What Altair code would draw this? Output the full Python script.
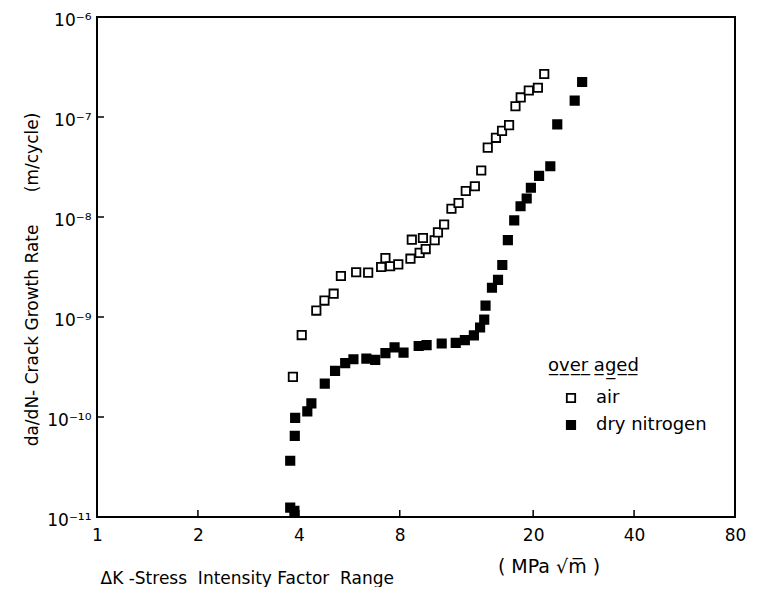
import altair as alt
import pandas as pd
import math

# ---- data ----
air_dk = [3.84, 4.08, 4.51, 4.77, 5.08, 5.34, 5.93, 6.44, 7.04, 7.25, 7.49, 7.92,
          8.61, 8.69, 9.17, 9.38, 9.56, 10.17, 10.40, 10.85, 11.41, 11.98, 12.59,
          13.40, 14.0, 14.64, 15.49, 16.15, 16.95, 17.71, 18.36, 19.41, 20.66, 21.58]
air_rate = [2.52e-10, 6.6e-10, 1.16e-9, 1.46e-9, 1.71e-9, 2.57e-9, 2.80e-9, 2.78e-9,
            3.16e-9, 3.88e-9, 3.22e-9, 3.36e-9, 3.83e-9, 5.93e-9, 4.38e-9, 6.17e-9,
            4.78e-9, 5.85e-9, 7.02e-9, 8.41e-9, 1.21e-8, 1.38e-8, 1.82e-8, 2.03e-8,
            2.92e-8, 4.94e-8, 6.19e-8, 7.26e-8, 8.30e-8, 1.28e-7, 1.57e-7, 1.84e-7,
            1.96e-7, 2.69e-7]

n2_dk = [3.77, 3.88, 3.77, 3.89, 3.90, 4.24, 4.36, 4.78, 5.13, 5.50, 5.82, 6.36,
         6.76, 7.25, 7.72, 8.21, 9.11, 9.62, 10.67, 11.75, 12.51, 13.31, 13.89,
         14.29, 14.42, 15.07, 15.71, 16.18, 16.81, 17.56, 18.34, 19.13, 19.69,
         20.83, 22.5, 23.6, 26.6, 28.0]
n2_rate = [1.24e-11, 1.15e-11, 3.65e-11, 6.47e-11, 9.8e-11, 1.14e-10, 1.37e-10,
           2.16e-10, 2.89e-10, 3.46e-10, 3.78e-10, 3.83e-10, 3.72e-10, 4.35e-10,
           4.97e-10, 4.40e-10, 5.13e-10, 5.23e-10, 5.43e-10, 5.51e-10, 5.87e-10,
           6.56e-10, 7.85e-10, 9.42e-10, 1.30e-9, 1.96e-9, 2.35e-9, 3.31e-9,
           5.87e-9, 9.27e-9, 1.28e-8, 1.53e-8, 1.96e-8, 2.58e-8, 3.22e-8,
           8.45e-8, 1.46e-7, 2.24e-7]

series_names = ["air", "dry nitrogen"]
x_ticks = [1, 2, 4, 8, 20, 40, 80]
x_inner_ticks = [2, 4, 8, 20, 40]
y_ticks = [1e-11, 1e-10, 1e-9, 1e-8, 1e-7, 1e-6]
y_inner_ticks = [1e-10, 1e-9, 1e-8, 1e-7]
y_tick_labels = ["10\u207b\u00b9\u00b9", "10\u207b\u00b9\u2070", "10\u207b\u2079",
                 "10\u207b\u2078", "10\u207b\u2077", "10\u207b\u2076"]

FONT = "DejaVu Sans"
W, H = 638, 500

df = pd.DataFrame({
    "dk": air_dk + n2_dk,
    "rate": air_rate + n2_rate,
    "series": [series_names[0]] * len(air_dk) + [series_names[1]] * len(n2_dk),
})

# label expression for the y axis, built from the label list
expr = "''"
for v, lab in reversed(list(zip(y_ticks, y_tick_labels))):
    e = round(math.log10(v))
    expr = f"(round(log(datum.value)/LN10) == {e}) ? '{lab}' : ({expr})"

xscale = alt.Scale(type="log", domain=[1, 80], nice=False)
yscale = alt.Scale(type="log", domain=[1e-11, 1e-6], nice=False)

points = alt.Chart(df).mark_point(
    shape="square", size=70, filled=True, stroke="black", strokeWidth=1.8, opacity=1
).encode(
    x=alt.X("dk:Q", scale=xscale, axis=alt.Axis(
        values=x_ticks, format="d", domain=False, ticks=False, grid=False,
        labelFont=FONT, labelFontSize=17, labelColor="black", labelPadding=10,
        labelFlush=False, labelOverlap=False,
        title="\u0394K -Stress\u00a0 Intensity Factor\u00a0 Range",
        titleFont=FONT, titleFontSize=17, titleFontWeight="normal", titleColor="black",
        titleX=3, titleY=61, titleAlign="left", titleBaseline="middle", titleAnchor="start")),
    y=alt.Y("rate:Q", scale=yscale, axis=alt.Axis(
        values=y_ticks, labelExpr=expr, domain=False, ticks=False, grid=False,
        labelFont=FONT, labelFontSize=17, labelColor="black", labelPadding=6,
        labelOffset=3, labelFlush=False, labelOverlap=False,
        title="da/dN- Crack Growth Rate\u00a0\u00a0\u00a0\u00a0\u00a0 (m/cycle)",
        titleFont=FONT, titleFontSize=17, titleFontWeight="normal", titleColor="black",
        titleAngle=-90, titleX=-65, titleY=262, titleAlign="center",
        titleBaseline="middle")),
    fill=alt.Fill("series:N", scale=alt.Scale(domain=series_names, range=["white", "black"]),
                  legend=alt.Legend(
                      title="o\u0332v\u0332e\u0332r\u0332 a\u0332g\u0332e\u0332d\u0332",
                      orient="none", legendX=451, legendY=340,
                      titleFont=FONT, titleFontSize=18, titleFontWeight="normal",
                      titleColor="black", titlePadding=14,
                      labelFont=FONT, labelFontSize=18, labelColor="black",
                      symbolType="square", symbolSize=70, symbolStrokeColor="black",
                      symbolStrokeWidth=1.8, symbolOffset=14, labelOffset=16,
                      rowPadding=9)),
)

xt = pd.DataFrame({"v": x_inner_ticks})
yt = pd.DataFrame({"v": y_inner_ticks})

xtick_layer = alt.Chart(xt).mark_rule(color="black", strokeWidth=1.5).encode(
    x=alt.X("v:Q", scale=xscale, axis=None),
    y=alt.value(H), y2=alt.value(H - 7),
)
ytick_layer = alt.Chart(yt).mark_rule(color="black", strokeWidth=1.5).encode(
    y=alt.Y("v:Q", scale=yscale, axis=None),
    x=alt.value(0), x2=alt.value(7),
)

unit = alt.Chart(pd.DataFrame({"t": ["(\u00a0MPa\u00a0\u221am\u0305\u00a0)"]})).mark_text(
    font=FONT, fontSize=19, color="black", align="center", baseline="middle"
).encode(text="t:N", x=alt.value(452), y=alt.value(H + 50))

chart = alt.layer(points, xtick_layer, ytick_layer, unit).resolve_axis(
    x="independent", y="independent"
).properties(
    width=W, height=H,
    autosize=alt.AutoSizeParams(type="none"),
    padding={"left": 89, "top": 9, "right": 14, "bottom": 70},
).configure(
    background="white"
).configure_view(
    stroke="black", strokeWidth=2
)

chart.save("out.html", embed_options={"renderer": "svg", "actions": False})
